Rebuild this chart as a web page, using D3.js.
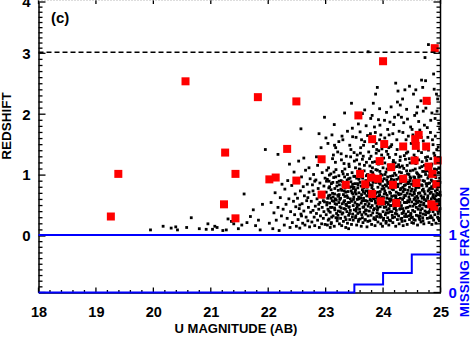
<!DOCTYPE html>
<html>
<head>
<meta charset="utf-8">
<script src="https://cdn.jsdelivr.net/npm/d3@7"></script>
<style>
  body { margin: 0; background: #fff; }
  text { font-family: "Liberation Sans", Arial, sans-serif; font-weight: bold; }
</style>
</head>
<body>
<div id="svg"></div>
<script>
// bright sources (red squares): [U mag, redshift]
let redPoints = [
    [19.26,.32],[19.39,1.02],[20.56,2.54],[21.82,2.28],[22.49,2.21],[21.25,1.37],[22.33,1.43],
    [21.43,1.02],[22.02,.93],[22.13,.96],[22.49,.91],[21.23,.52],[21.43,.29],
    [24.9,3.1],[24.0,2.87],[24.76,2.22],[23.57,1.98],
    [23.81,1.59],[24.02,1.51],[24.35,1.47],[24.56,1.59],[24.62,1.66],[24.57,1.48],[24.75,1.47],
    [22.93,1.26],[23.94,1.23],[24.55,1.24],[24.95,1.24],[24.14,1.13],[24.79,1.14],[24.86,1.02],
    [23.6,1.02],[23.79,.96],[23.91,.94],[24.35,.94],[23.35,.84],[23.69,.85],[24.17,.84],
    [24.58,.87],[24.93,.85],[22.93,.68],[23.81,.69],[23.96,.57],[24.23,.54],[24.84,.52],[24.89,.48]
];

// field galaxies (black dots): [U mag, redshift]
let dotsBright = [
    [19.95,.1],[20.17,.16],[20.31,.13],[20.39,.15],[20.42,.1],[20.58,.14],[20.66,.3],[20.8,.12],
    [20.92,.11],[20.95,.2],[21.03,.11],[21.07,.16],[21.11,.14],[21.27,.1],[21.3,.28],[21.36,.24],
    [21.4,.2],[21.54,.18],[21.58,.69],[21.63,.22],[21.69,.32],[21.74,.43],[21.83,.26],[21.86,.1],
    [21.95,1.42],[21.9,.52],[21.78,.17],[21.48,.12],[21.21,.09],[22.17,1.34],[22.57,1.76],
    [22.53,1.23],[22.71,1.12]
];
let dots22 = [
    [22.02,.21],[22.05,.55],[22.08,.12],[22.1,.38],[22.12,.71],[22.14,.26],[22.17,.47],[22.19,.09],
    [22.21,.63],[22.23,.33],[22.24,.85],[22.06,.95],
    [22.26,.44],[22.28,.18],[22.29,.77],[22.31,.52],[22.33,.29],[22.34,.91],[22.36,.61],[22.38,.14],
    [22.39,.4],[22.41,.83],[22.42,.22],[22.44,.57],[22.45,1.05],[22.46,.35],[22.47,.69],[22.48,.48],
    [22.49,.16],[22.37,1.18],
    [22.51,.62],[22.52,.27],[22.53,.88],[22.54,.45],[22.55,.13],[22.56,.74],[22.57,.36],[22.58,.97],
    [22.59,.53],[22.6,.21],[22.61,.81],[22.62,.41],[22.63,.66],[22.64,.18],[22.65,1.08],[22.66,.31],
    [22.67,.58],[22.68,.85],[22.69,.25],[22.7,.47],[22.71,.72],[22.72,.15],[22.73,.94],[22.74,.39],
    [22.62,1.28],[22.55,.51],[22.69,.63],[22.58,.33],
    [22.75,.57],[22.76,.23],[22.77,.84],[22.78,.42],[22.79,1.01],[22.8,.31],[22.8,.68],[22.81,.17],
    [22.82,.49],[22.83,.92],[22.84,.37],[22.85,.61],[22.86,.26],[22.86,1.16],[22.87,.78],[22.88,.44],
    [22.89,.14],[22.9,.55],[22.9,.87],[22.91,.33],[22.92,.71],[22.93,.2],[22.94,.47],[22.94,1.04],
    [22.95,.64],[22.96,.29],[22.97,.82],[22.97,.4],[22.98,.56],[22.99,.19],[22.99,.95],[22.78,.74],
    [22.84,1.3],[22.88,.52],[22.92,1.45],[22.96,.58],[22.81,.9],[22.98,1.95]
];
let dots23 = [
    [23.01,.35],[23.01,.72],[23.02,.51],[23.03,.18],[23.03,.93],[23.04,.44],[23.05,.66],[23.05,1.12],
    [23.06,.28],[23.07,.81],[23.07,.54],[23.08,.39],[23.09,1.02],[23.09,.62],[23.1,.22],[23.1,.86],
    [23.11,.47],[23.12,.7],[23.12,1.27],[23.13,.33],[23.14,.57],[23.14,.96],[23.15,.16],[23.16,.43],
    [23.16,.78],[23.17,.61],[23.18,1.09],[23.18,.3],[23.19,.52],[23.2,.88],[23.2,.25],[23.21,.67],
    [23.21,1.38],[23.22,.41],[23.22,.75],[23.23,.55],[23.23,.99],[23.24,.2],[23.24,.84],[23.25,.48],
    [23.04,1.52],[23.11,1.66],[23.17,1.21],[23.06,.9],[23.13,.64],[23.19,.37],[23.08,.14],[23.23,1.55],
    [23.15,1.83],[23.02,1.08],
    [23.26,.62],[23.26,.29],[23.27,.91],[23.27,.46],[23.28,.75],[23.28,.17],[23.29,1.06],[23.29,.53],
    [23.3,.38],[23.3,.83],[23.31,.24],[23.31,.68],[23.32,1.19],[23.32,.45],[23.33,.97],[23.33,.58],
    [23.34,.31],[23.34,.79],[23.35,.14],[23.35,.52],[23.36,1.31],[23.36,.87],[23.37,.4],[23.37,.66],
    [23.38,.21],[23.38,1.01],[23.39,.55],[23.39,.73],[23.4,.34],[23.4,.94],[23.41,.48],[23.41,1.14],
    [23.42,.27],[23.42,.8],[23.43,.61],[23.43,.42],[23.44,1.42],[23.44,.89],[23.45,.19],[23.45,.57],
    [23.46,.71],[23.46,1.04],[23.47,.36],[23.47,.85],[23.48,.5],[23.48,.26],[23.49,.98],[23.49,.64],
    [23.5,.43],[23.5,1.23],[23.3,1.58],[23.38,1.72],[23.42,1.49],[23.33,2.02],[23.47,1.63],[23.27,1.35],
    [23.45,2.18],[23.35,.72],[23.4,.12],[23.48,.78],
    [23.51,.55],[23.51,.86],[23.52,.3],[23.52,1.12],[23.53,.69],[23.53,.41],[23.54,.18],[23.54,.95],
    [23.55,.6],[23.55,1.33],[23.56,.37],[23.56,.79],[23.57,.24],[23.57,1.02],[23.58,.51],[23.58,.71],
    [23.59,.44],[23.59,1.18],[23.6,.88],[23.6,.28],[23.61,.63],[23.61,1.45],[23.62,.16],[23.62,.54],
    [23.63,.97],[23.63,.35],[23.64,.76],[23.64,1.26],[23.65,.47],[23.65,.22],[23.66,.84],[23.66,.62],
    [23.67,1.07],[23.67,.39],[23.68,.7],[23.68,1.55],[23.69,.52],[23.69,.27],[23.7,.91],[23.7,.58],
    [23.71,1.21],[23.71,.42],[23.72,.8],[23.72,.15],[23.73,.66],[23.73,1.01],[23.74,.33],[23.74,.49],
    [23.75,.87],[23.75,1.38],[23.53,1.62],[23.57,1.84],[23.6,1.71],[23.64,2.01],[23.68,2.07],[23.66,1.49],
    [23.56,1.95],[23.73,1.65],[23.62,.82],[23.58,.93],[23.7,.36],[23.55,.48],[23.67,.58],[23.52,.76],
    [23.74,.74],[23.6,1.09],[23.64,.3],[23.71,.99],[23.54,1.25],[23.74,3.03],
    [23.76,.41],[23.76,.73],[23.77,1.15],[23.77,.25],[23.78,.59],[23.78,.92],[23.79,.34],[23.79,1.31],
    [23.8,.67],[23.8,.19],[23.81,.83],[23.81,.5],[23.82,1.04],[23.82,.38],[23.83,.76],[23.83,1.47],
    [23.84,.28],[23.84,.61],[23.85,.95],[23.85,.45],[23.86,1.22],[23.86,.17],[23.87,.7],[23.87,.54],
    [23.88,.88],[23.88,1.36],[23.89,.32],[23.89,.64],[23.9,1.08],[23.9,.43],[23.91,.8],[23.91,.23],
    [23.92,.57],[23.92,1.18],[23.93,.97],[23.93,.36],[23.94,.68],[23.94,1.58],[23.95,.48],[23.95,.85],
    [23.96,.2],[23.96,1.01],[23.97,.62],[23.97,.31],[23.98,.77],[23.98,1.27],[23.99,.52],[23.99,.9],
    [24,.4],[24,1.12],[23.83,2.18],[23.87,2.33],[23.9,2.44],[23.78,1.68],[23.85,1.79],[23.92,1.91],
    [23.96,1.66],[23.81,1.98],[23.94,2.09],[23.88,1.52],[23.98,1.43],[23.77,.84],[23.84,.99],[23.91,.46],
    [23.95,.73],[23.8,.58],[23.87,.27],[23.93,.66],[23.99,.16],[23.79,1.06],[23.86,.89],[23.97,1.19],
    [23.82,.7],[23.89,1.42],[23.94,.31]
];
let dots24 = [
    [24.01,.63],[24.01,.29],[24.02,.94],[24.02,.47],[24.03,1.2],[24.03,.74],[24.04,.35],[24.04,.56],
    [24.05,1.05],[24.05,.21],[24.06,.82],[24.06,1.39],[24.07,.43],[24.07,.67],[24.08,.97],[24.08,.3],
    [24.09,.52],[24.09,1.16],[24.1,.79],[24.1,.18],[24.11,.61],[24.11,1.29],[24.12,.4],[24.12,.89],
    [24.13,.25],[24.13,.7],[24.14,1.09],[24.14,.5],[24.15,.84],[24.15,1.5],[24.16,.34],[24.16,.59],
    [24.17,.99],[24.17,.22],[24.18,.76],[24.18,1.24],[24.19,.45],[24.19,.66],[24.2,1.03],[24.2,.31],
    [24.21,.87],[24.21,.55],[24.22,1.34],[24.22,.16],[24.23,.72],[24.23,.42],[24.24,.93],[24.24,1.14],
    [24.25,.6],[24.25,.27],[24.03,1.61],[24.08,1.75],[24.12,1.87],[24.17,1.68],[24.22,2.51],[24.2,1.95],
    [24.06,2.03],[24.14,2.12],[24.24,1.58],[24.1,1.45],[24.04,.84],[24.09,.38],[24.13,.98],[24.18,.53],
    [24.23,.81],[24.02,.69],[24.07,1.1],[24.11,.26],[24.16,.77],[24.21,1.2],[24.05,.48],[24.15,.65],
    [24.19,.92],[24.12,.57],[24.24,.36],[24.01,1.28],[24.08,.88],[24.22,.63],
    [24.26,.51],[24.26,.85],[24.27,.33],[24.27,1.17],[24.28,.68],[24.28,.2],[24.29,.94],[24.29,.44],
    [24.3,1.3],[24.3,.62],[24.31,.28],[24.31,.78],[24.32,1.04],[24.32,.5],[24.33,.37],[24.33,.89],
    [24.34,1.45],[24.34,.6],[24.35,.17],[24.35,.73],[24.36,1.11],[24.36,.41],[24.37,.83],[24.37,.55],
    [24.38,.25],[24.38,.99],[24.39,1.26],[24.39,.66],[24.4,.46],[24.4,.92],[24.41,.32],[24.41,1.07],
    [24.42,.7],[24.42,.19],[24.43,.58],[24.43,1.38],[24.44,.86],[24.44,.4],[24.45,1.01],[24.45,.64],
    [24.46,.27],[24.46,.8],[24.47,1.2],[24.47,.49],[24.48,.95],[24.48,.35],[24.49,.74],[24.49,1.52],
    [24.5,.56],[24.5,.22],[24.25,2.2],[24.26,2.38],[24.38,2.4],[24.46,2.46],[24.3,2.15],[24.34,2.25],
    [24.41,2.08],[24.28,1.72],[24.36,1.86],[24.44,1.64],[24.32,1.95],[24.48,1.79],[24.4,1.58],[24.27,.6],
    [24.31,.93],[24.35,.38],[24.39,.84],[24.43,.47],[24.47,.69],[24.29,1.13],[24.33,.24],[24.37,1.32],
    [24.41,.55],[24.45,.88],[24.49,.3],[24.3,.76],[24.36,.63],[24.42,1.16],[24.47,.97],[24.34,.45],
    [24.51,.67],[24.51,.31],[24.52,1.08],[24.52,.49],[24.53,.83],[24.53,.21],[24.54,1.33],[24.54,.6],
    [24.55,.4],[24.55,.96],[24.56,.26],[24.56,.75],[24.57,1.19],[24.57,.53],[24.58,.88],[24.58,.34],
    [24.59,1.47],[24.59,.65],[24.6,.18],[24.6,1.02],[24.61,.44],[24.61,.8],[24.62,1.25],[24.62,.57],
    [24.63,.29],[24.63,.92],[24.64,.71],[24.64,1.12],[24.65,.38],[24.65,.51],[24.66,.98],[24.66,.23],
    [24.67,.84],[24.67,1.37],[24.68,.62],[24.68,.45],[24.69,1.06],[24.69,.3],[24.7,.77],[24.7,1.56],
    [24.71,.54],[24.71,.2],[24.72,.9],[24.72,1.16],[24.73,.41],[24.73,.69],[24.74,1.29],[24.74,.35],
    [24.75,.86],[24.75,.58],[24.53,2.33],[24.57,2.4],[24.67,2.56],[24.69,2.44],[24.73,2.93],[24.74,2.55],
    [24.55,1.98],[24.6,2.12],[24.64,1.74],[24.7,2.05],[24.52,1.66],[24.62,1.88],[24.66,2.22],[24.58,1.61],
    [24.72,1.82],[24.54,.72],[24.58,.47],[24.62,.97],[24.66,.66],[24.7,.36],[24.74,1.01],[24.56,1.1],
    [24.6,.55],[24.64,.27],[24.68,.83],[24.72,.6],[24.52,.9],[24.68,1.22],[24.61,.33],[24.57,.79],
    [24.76,.48],[24.76,.82],[24.77,1.13],[24.77,.29],[24.78,.66],[24.78,.95],[24.79,.38],[24.79,1.41],
    [24.8,.57],[24.8,.22],[24.81,.87],[24.81,1.05],[24.82,.44],[24.82,.7],[24.83,1.27],[24.83,.33],
    [24.84,.61],[24.84,.92],[24.85,.19],[24.85,1.18],[24.86,.52],[24.86,.78],[24.87,1.5],[24.87,.4],
    [24.88,.84],[24.88,.26],[24.89,1.01],[24.89,.63],[24.9,.35],[24.9,1.32],[24.91,.74],[24.91,.5],
    [24.92,.96],[24.92,.21],[24.93,1.09],[24.93,.58],[24.94,.43],[24.94,.86],[24.95,1.22],[24.95,.31],
    [24.96,.68],[24.96,1.46],[24.97,.53],[24.97,.9],[24.98,.25],[24.98,1.04],[24.99,.72],[24.99,.45],
    [24.79,3.17],[24.88,2.66],[24.89,2.41],[24.93,2.33],[24.8,2.18],[24.85,2.02],[24.95,2.25],[24.77,1.78],
    [24.83,1.9],[24.91,1.64],[24.97,1.85],[24.86,1.58],[24.94,2.05],[24.78,1.62],[24.82,.54],[24.87,.99],
    [24.92,.66],[24.96,.37],[24.8,.76],[24.84,1.15],[24.89,.47],[24.94,.8],[24.98,.6],[24.76,1.24],
    [24.81,.3],[24.86,.9],[24.91,1.2],[24.95,.51],[24.99,.88],[24.84,.72],[24.9,.61],[24.97,1.12]
];
// dense core of the faint cloud
let dotsCore = [
    [23.035,.62],[23.085,.47],[23.125,.88],[23.165,.53],[23.215,.34],[23.265,.77],[23.305,1.02],
    [23.345,.44],[23.385,.63],[23.425,.95],[23.465,.31],[23.515,.72],[23.555,.86],[23.595,.39],
    [23.635,.58],[23.675,1.16],[23.715,.66],[23.755,.53],[23.795,.97],[23.835,.43],[23.875,1.09],
    [23.915,.61],[23.955,.35],[23.995,.82],[24.035,1.01],[24.075,.55],[24.115,.72],[24.155,.4],
    [24.195,1.13],[24.235,.52],[24.275,.96],[24.315,.69],[24.355,.9],[24.395,.36],[24.435,.75],
    [24.475,1.07],[24.515,.42],[24.555,.63],[24.595,.92],[24.635,.49],[24.675,1.14],[24.715,.73],
    [24.755,.39],[24.795,.99],[24.835,.56],[24.875,.68],[24.915,.89],[24.955,1.04],[24.985,.41],
    [23.015,.9],[23.055,.41],[23.095,.76],[23.145,1.05],[23.185,.59],[23.235,.68],[23.285,.36],
    [23.325,.83],[23.365,.5],[23.405,1.18],[23.445,.74],[23.485,.6],[23.535,.45],[23.575,.64],
    [23.615,1.06],[23.655,.73],[23.695,.43],[23.735,.82],[23.775,.6],[23.815,1.12],[23.855,.69],
    [23.895,.49],[23.935,.87],[23.975,.55],[24.015,.78],[24.055,.38],[24.095,.86],[24.135,.6],
    [24.175,1.21],[24.215,.46],[24.255,.81],[24.295,.55],[24.335,1.15],[24.375,.67],[24.415,.88],
    [24.455,.33],[24.495,.85],[24.535,.97],[24.575,.58],[24.615,.7],[24.655,.43],[24.695,.91],
    [24.735,1.06],[24.775,.62],[24.815,.78],[24.855,.46],[24.895,1.1],[24.935,.7],[24.975,.57],
    [23.025,.55],[23.065,1.0],[23.105,.31],[23.155,.69],[23.195,.82],[23.245,.6],[23.295,.89],
    [23.335,.65],[23.375,.92],[23.415,.55],[23.455,.81],[23.505,.98],[23.545,.52],[23.585,1.1],
    [23.625,.68],[23.665,.48],[23.705,.74],[23.745,.94],[23.785,.47],[23.825,.88],[23.865,.57],
    [23.905,.94],[23.945,1.06],[23.985,.64],[24.025,.53],[24.065,.92],[24.105,.45],[24.145,.79],
    [24.185,.58],[24.225,1.0],[24.265,.7],[24.305,.45],[24.345,.8],[24.385,.55],[24.425,1.02],
    [24.465,.6],[24.505,.77],[24.545,.52],[24.585,1.04],[24.625,.8],[24.665,.56],[24.705,.64],
    [24.745,.49],[24.785,.86],[24.825,1.0],[24.865,.64],[24.905,.82],[24.945,.59],[24.985,.95],
    [23.045,.26],[23.135,1.33],[23.205,.29],[23.275,1.25],[23.355,.27],[23.435,1.3],[23.525,.33],
    [23.605,1.36],[23.685,.26],[23.765,1.27],[23.845,.3],[23.925,1.4],[24.005,.26],[24.085,1.34],
    [24.165,.3],[24.245,1.42],[24.325,.29],[24.405,1.36],[24.485,.37],[24.565,1.29],[24.645,.33],
    [24.725,1.43],[24.805,.4],[24.885,1.36],[24.965,.28],
    [23.095,.2],[23.175,1.45],[23.255,.4],[23.335,1.1],[23.415,.37],[23.495,1.37],[23.575,.27],
    [23.655,1.31],[23.735,.24],[23.815,1.21],[23.895,.38],[23.975,1.33],[24.055,.24],[24.135,1.47],
    [24.215,.37],[24.295,1.24],[24.375,.32],[24.455,1.27],[24.535,.27],[24.615,1.4],[24.695,.25],
    [24.775,1.3],[24.855,.3],[24.935,1.42],
    [23.055,.79],[23.115,.58],[23.175,.97],[23.225,.65],[23.315,.56],[23.395,.81],[23.475,.69],
    [23.565,.84],[23.645,.95],[23.725,.57],[23.805,.79],[23.885,.62],[23.965,.93],[24.045,.7],
    [24.125,.5],[24.205,.83],[24.285,1.05],[24.365,.77],[24.445,.56],[24.525,.85],[24.605,.62],
    [24.685,.75],[24.765,1.07],[24.845,.81],[24.925,.53],[24.995,.67],
    [23.075,.67],[23.155,.46],[23.235,.9],[23.325,.74],[23.405,.47],[23.495,.8],[23.585,.61],
    [23.665,.79],[23.745,.71],[23.825,.63],[23.905,.72],[23.985,1.0],[24.065,.62],[24.145,.93],
    [24.225,.66],[24.305,.87],[24.385,.76],[24.465,.91],[24.545,.69],[24.625,1.0],[24.705,.51],
    [24.785,.74],[24.865,1.02],[24.945,.76],
    [23.625,1.58],[23.705,1.81],[23.785,1.93],[23.865,1.7],[23.945,1.82],[24.025,1.9],[24.105,1.66],
    [24.185,1.83],[24.265,1.99],[24.345,1.7],[24.425,1.92],[24.505,1.75],[24.585,2.02],[24.665,1.62],
    [24.745,2.1],[24.825,1.7],[24.905,1.93],[24.985,1.76],[23.465,1.77],[23.285,1.64],[23.155,1.49],
    [23.005,1.61],[22.885,1.68]
];

// missing fraction per magnitude bin
let binEdges = [18, 23.5, 24, 24.5, 25];
let missingFrac = [0, 0.14, 0.34, 0.66];

let xTicks = [18, 19, 20, 21, 22, 23, 24, 25];
let zTicks = [0, 1, 2, 3, 4];
let fracTicks = [0, 1];
let zCut = 3.02;

function makeGraph() {
    let w = 471, h = 339;
    let left = 38.5, right = 440.5, bottom = 292.5;

    let svg = d3.select('#svg')
        .append('svg')
        .attr('width', w)
        .attr('height', h);

    let xScale = d3.scaleLinear().domain([18, 25]).range([left, right]);
    // upper panel: redshift, lower panel shares the axis below 0
    let yScale = d3.scaleLinear().domain([-1, 0, 3, 4]).range([bottom, 236, 53.3, 2]);
    let fScale = d3.scaleLinear().domain([0, 1]).range([bottom, 235]);

    let dots = dotsBright.concat(dots22, dots23, dots24, dotsCore);
    let ds = 2.8;
    svg.append('g').selectAll('rect')
        .data(dots)
        .enter()
        .append('rect')
        .attr('x', d => xScale(d[0]) - ds / 2)
        .attr('y', d => yScale(d[1]) - ds / 2)
        .attr('width', ds)
        .attr('height', ds)
        .style('fill', '#000');

    let rs = 8;
    svg.append('g').selectAll('rect')
        .data(redPoints)
        .enter()
        .append('rect')
        .attr('x', d => xScale(d[0]) - rs / 2)
        .attr('y', d => yScale(d[1]) - rs / 2)
        .attr('width', rs)
        .attr('height', rs)
        .style('fill', '#ff0000');

    // z cut
    svg.append('line')
        .attr('x1', left).attr('x2', right)
        .attr('y1', yScale(zCut)).attr('y2', yScale(zCut))
        .attr('stroke', '#000')
        .attr('stroke-width', 1.5)
        .attr('stroke-dasharray', '5,3');

    // axes
    let minorX = d3.range(18, 25.001, 0.2).map(v => +v.toFixed(1));
    let minorZ = d3.range(-1, 4.001, 0.1).map(v => +v.toFixed(1));

    let xAxis = d3.axisBottom(xScale).tickValues(xTicks).tickSize(0).tickPadding(14)
        .tickFormat(d3.format('d'));
    let gx = svg.append('g')
        .attr('transform', `translate(0, ${bottom})`)
        .call(xAxis);
    gx.select('.domain').attr('stroke-width', 1.5);
    gx.selectAll('text').style('font-size', '14.5px').attr('fill', '#000');

    // tick marks pointing inward
    let ticks = svg.append('g').attr('stroke', '#000').attr('stroke-width', 1.3);
    ticks.selectAll('.xb')
        .data(minorX)
        .enter()
        .append('line')
        .attr('x1', d => xScale(d)).attr('x2', d => xScale(d))
        .attr('y1', bottom)
        .attr('y2', d => bottom - (Number.isInteger(d) ? 5 : 2.5));
    ticks.selectAll('.xt')
        .data(xTicks)
        .enter()
        .append('line')
        .attr('x1', d => xScale(d)).attr('x2', d => xScale(d))
        .attr('y1', 0).attr('y2', 4);
    ticks.selectAll('.yl')
        .data(minorZ)
        .enter()
        .append('line')
        .attr('x1', left)
        .attr('x2', d => left + (Number.isInteger(d) ? 7 : 4))
        .attr('y1', d => yScale(d)).attr('y2', d => yScale(d));
    ticks.selectAll('.yr')
        .data(minorZ.filter(d => d >= 0))
        .enter()
        .append('line')
        .attr('x1', right)
        .attr('x2', d => right - (Number.isInteger(d) ? 7 : 4))
        .attr('y1', d => yScale(d)).attr('y2', d => yScale(d));
    ticks.selectAll('.fr')
        .data(d3.range(0, 1.001, 0.1))
        .enter()
        .append('line')
        .attr('x1', right)
        .attr('x2', (d, i) => right - (i % 10 === 0 ? 7 : 4))
        .attr('y1', d => fScale(d)).attr('y2', d => fScale(d));

    let yAxis = d3.axisLeft(yScale).tickValues(zTicks).tickSize(0).tickPadding(8)
        .tickFormat(d3.format('d'));
    let gy = svg.append('g')
        .attr('transform', `translate(${left}, 0)`)
        .call(yAxis);
    gy.select('.domain').attr('stroke-width', 1.5);
    gy.selectAll('text').style('font-size', '15px').attr('fill', '#000');

    let fAxis = d3.axisRight(fScale).tickValues(fracTicks).tickSize(0).tickPadding(8)
        .tickFormat(d3.format('d'));
    let gf = svg.append('g')
        .attr('transform', `translate(${right}, 0)`)
        .call(fAxis);
    gf.selectAll('text').style('font-size', '15px').attr('fill', '#0000ff');
    gf.select('.domain').remove();

    svg.append('line')
        .attr('x1', right).attr('x2', right)
        .attr('y1', 0).attr('y2', bottom)
        .attr('stroke', '#000').attr('stroke-width', 1.5);
    svg.append('line')
        .attr('x1', left).attr('x2', right)
        .attr('y1', 0.5).attr('y2', 0.5)
        .attr('stroke', '#bbb').attr('stroke-width', 1)
        .attr('stroke-dasharray', '1,2');

    // missing fraction (blue)
    svg.append('line')
        .attr('x1', left).attr('x2', right)
        .attr('y1', fScale(1)).attr('y2', fScale(1))
        .attr('stroke', '#0000ff').attr('stroke-width', 2);

    let stepLine = d3.line()
        .x(d => xScale(d[0]))
        .y(d => fScale(d[1]))
        .curve(d3.curveStepBefore);
    svg.append('path')
        .datum([[18, 0]].concat(binEdges.slice(1).map((e, i) => [e, missingFrac[i]])))
        .attr('d', stepLine)
        .attr('fill', 'none')
        .attr('stroke', '#0000ff')
        .attr('stroke-width', 2);

    // labels
    svg.append('text')
        .attr('x', 51).attr('y', 23)
        .style('font-size', '15px')
        .text('(c)');

    svg.append('text')
        .attr('transform', 'rotate(-90)')
        .attr('x', -126).attr('y', 11)
        .attr('text-anchor', 'middle')
        .style('font-size', '13.5px')
        .text('REDSHIFT');

    svg.append('text')
        .attr('x', 236).attr('y', 333)
        .attr('text-anchor', 'middle')
        .style('font-size', '13px')
        .text('U MAGNITUDE (AB)');

    svg.append('text')
        .attr('transform', 'rotate(-90)')
        .attr('x', -252).attr('y', 469)
        .attr('text-anchor', 'middle')
        .style('font-size', '13.5px')
        .attr('fill', '#0000ff')
        .text('MISSING FRACTION');
}

window.onload = () => {
    makeGraph();
}
</script>
</body>
</html>
